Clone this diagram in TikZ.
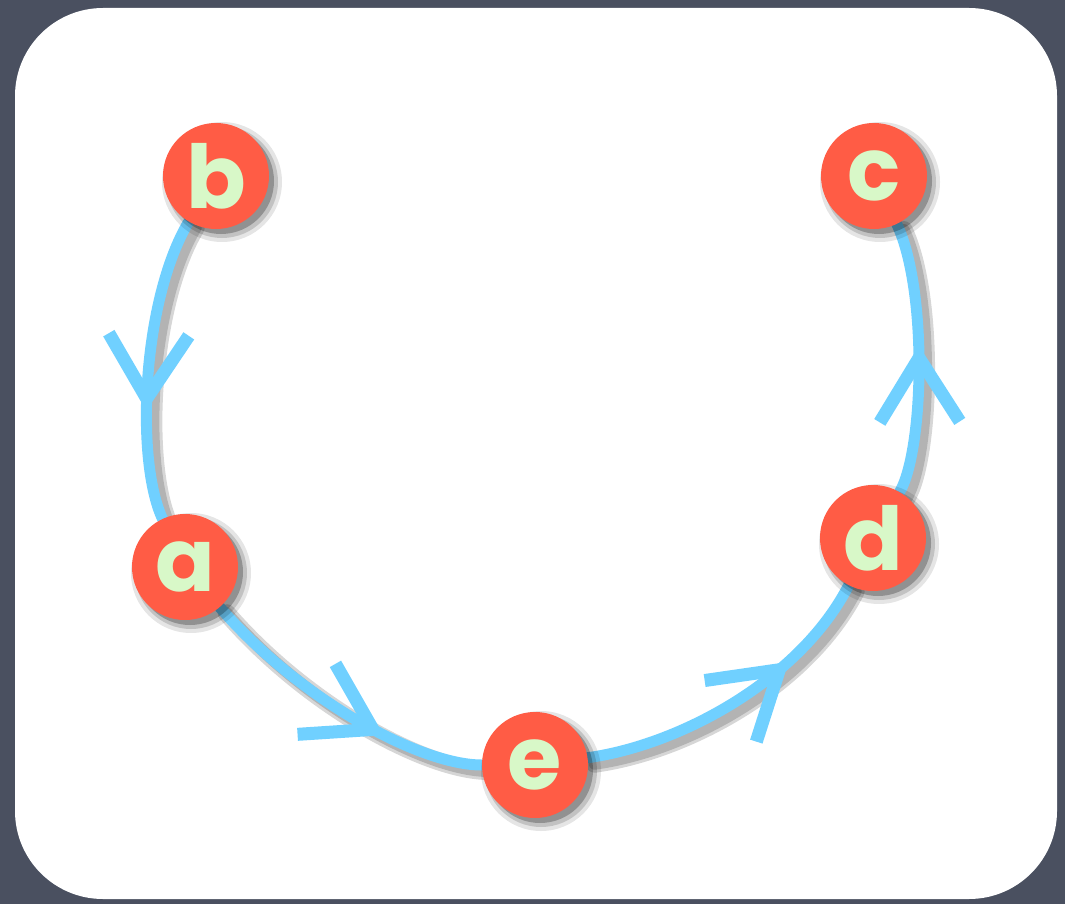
\documentclass[tikz,border=0pt]{standalone}
\usepackage{fontspec}
\setmainfont{Poppins}
\usetikzlibrary{decorations.markings}
\definecolor{bgdark}{HTML}{4A5060}
\definecolor{nodered}{HTML}{FF5C45}
\definecolor{lettergreen}{HTML}{D8F8C8}
\definecolor{edgeblue}{HTML}{70D0FF}
\pgfdeclarelayer{bgl}
\pgfdeclarelayer{eshadow}
\pgfdeclarelayer{edges}
\pgfdeclarelayer{nshadow}
\pgfsetlayers{bgl,eshadow,edges,nshadow,main}
\begin{document}
\begin{tikzpicture}[x=1pt,y=-1pt,
  vert/.style={circle,fill=nodered,minimum size=106pt,inner sep=0pt,
    text=lettergreen,font=\fontsize{88}{88}\selectfont\bfseries},
  vhead/.style={decoration={markings,mark=at position #1 with
    {\draw[line width=13pt,line cap=butt,line join=round] (-64,40)--(0,0)--(-64,-40);}},
    postaction={decorate}},
  link/.style={draw=edgeblue,line width=11pt,line cap=round,vhead=#1},
  linkshadow/.style={draw=black,line width=#1,line cap=round,opacity=0.16,
    transform canvas={shift={(7pt,-6pt)}}}
]
\useasboundingbox (0,0) rectangle (1065,904);
\begin{pgfonlayer}{bgl}
\fill[bgdark] (0,0) rectangle (1065,904);
\fill[white,rounded corners=88pt] (15,8) rectangle (1057,899);
\end{pgfonlayer}

\node[vert] (b) at (216,176) {b};
\node[vert] (c) at (874,176) {c};
\node[vert] (a) at (185,567) {a};
\node[vert] (d) at (873,538) {d};
\node[vert] (e) at (535,765) {e};

\begin{pgfonlayer}{nshadow}
\foreach \n in {a,b,c,d,e}{
  \fill[black,opacity=0.10] ([shift={(6,6)}]\n.center) circle (60pt);
  \fill[black,opacity=0.15] ([shift={(6,6)}]\n.center) circle (56pt);
  \fill[black,opacity=0.25] ([shift={(5,5)}]\n.center) circle (53pt);
}
\end{pgfonlayer}

\begin{pgfonlayer}{edges}
\draw[link=0.6] (b) .. controls (142,300) and (135,460) .. (a);
\draw[link=0.63] (a) .. controls (300,700) and (420,765) .. (e);
\draw[link=0.66] (e) .. controls (680,745) and (800,680) .. (d);
\draw[link=0.5] (d) .. controls (924,450) and (928,290) .. (c);
\end{pgfonlayer}

\begin{pgfonlayer}{eshadow}
\foreach \w in {18pt,12pt}{
\draw[linkshadow=\w] (b) .. controls (142,300) and (135,460) .. (a);
\draw[linkshadow=\w] (a) .. controls (300,700) and (420,765) .. (e);
\draw[linkshadow=\w] (e) .. controls (680,745) and (800,680) .. (d);
\draw[linkshadow=\w] (d) .. controls (924,450) and (928,290) .. (c);
}
\end{pgfonlayer}
\end{tikzpicture}
\end{document}
